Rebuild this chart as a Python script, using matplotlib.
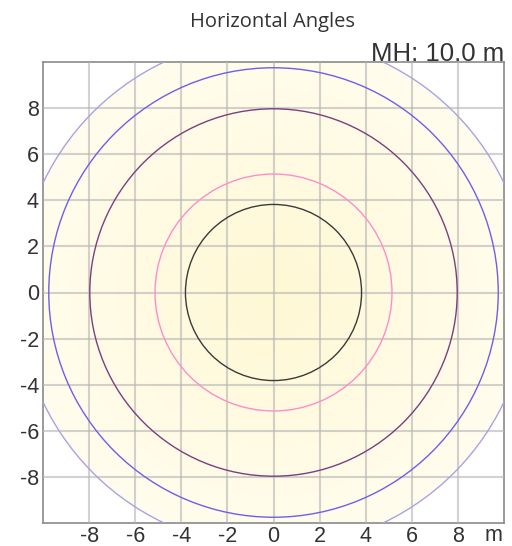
import matplotlib.pyplot as plt
from matplotlib.patches import Circle
import numpy as np

# iso-lines (radius in m) and their colours
radii = [3.82, 5.14, 7.97, 9.75, 11.07]
ring_colors = ['#3a3a3a', '#ff8ccc', '#7b3f7f', '#6f5fe8', '#aaa2e2']
ticks = [-8, -6, -4, -2, 0, 2, 4, 6, 8]
mounting_height = 10.0

fig = plt.figure(figsize=(5.12, 5.46), dpi=100)
ax = fig.add_axes([43 / 512, 23 / 546, 461 / 512, 461 / 546])

# soft yellow radial fill inside the outermost ring
g = np.linspace(-12, 12, 400)
gx, gy = np.meshgrid(g, g)
rr = np.clip(np.hypot(gx, gy) / radii[-1], 0, 1)
c0 = np.array([255, 248, 212]) / 255
c1 = np.array([255, 253, 238]) / 255
img = c0 + (c1 - c0) * rr[..., None]
im = ax.imshow(img, extent=[-12, 12, -12, 12], origin='lower', zorder=0,
               interpolation='bilinear')
clip = Circle((0, 0), radii[-1], transform=ax.transData)
im.set_clip_path(clip)
ax.set_xlim(-10, 10)
ax.set_ylim(-10, 10)
ax.set_aspect('auto')

ax.set_xticks(ticks)
ax.set_yticks(ticks)
ax.set_xticklabels([str(t) for t in ticks])
ax.set_yticklabels([str(t) for t in ticks])
ax.grid(True, color='#b4b4b4', alpha=0.6, linewidth=1.5, zorder=1)
ax.set_axisbelow(False)
ax.tick_params(length=0, labelsize=15.5, colors='#333333')
ax.tick_params(axis='x', pad=2)
ax.tick_params(axis='y', pad=3)
for lab in ax.get_xticklabels() + ax.get_yticklabels():
    lab.set_family('Liberation Sans')
for s in ax.spines.values():
    s.set_color('#8a8a8a')
    s.set_linewidth(1.2)

for r, c in zip(radii, ring_colors):
    ax.add_patch(Circle((0, 0), r, fill=False, edgecolor=c, linewidth=1.0, zorder=3))

fig.text(493 / 512, 1 - 541 / 546, 'm', ha='center', va='baseline', fontsize=15.5,
         color='#333333', family='Liberation Sans')
ax.text(1.0, 1.003, f'MH: {mounting_height:.1f} m', transform=ax.transAxes,
        ha='right', va='baseline', fontsize=18.5, color='#333333',
        family='Liberation Sans')
fig.text(272 / 512, 1 - 22 / 546, 'Horizontal Angles', ha='center', va='center',
         fontsize=14.5, color='#333333', family='Open Sans')

fig.savefig('out.png', dpi=100)
